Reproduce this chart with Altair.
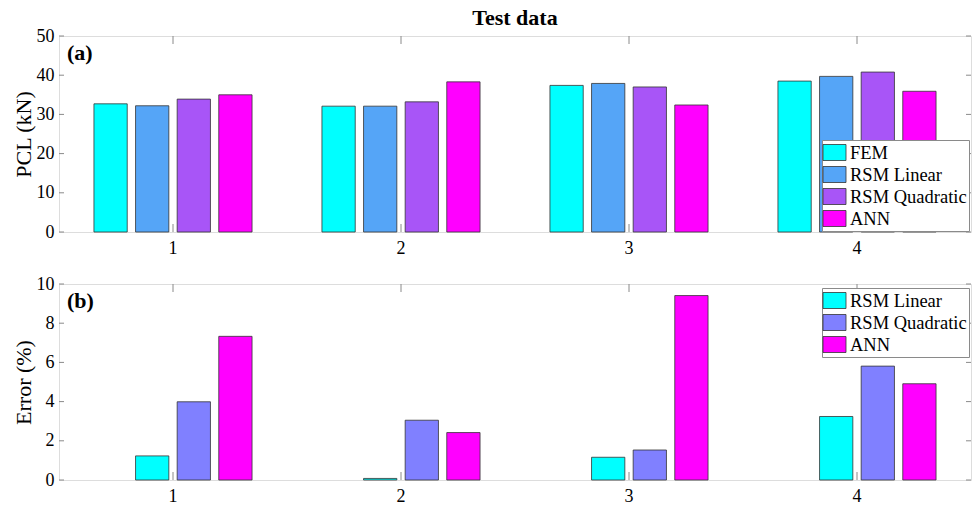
import altair as alt
import pandas as pd

cases = ["1", "2", "3", "4"]

# Panel (a): PCL (kN)
models_a = ["FEM", "RSM Linear", "RSM Quadratic", "ANN"]
fem = [32.7, 32.1, 37.4, 38.5]
rsm_linear = [32.2, 32.1, 37.9, 39.7]
rsm_quadratic = [33.9, 33.2, 37.0, 40.8]
ann = [35.0, 38.3, 32.4, 35.9]
colors_a = ["#00FFFF", "#55A5F7", "#A855F7", "#FF00FF"]
yticks_a = [0, 10, 20, 30, 40, 50]

# Panel (b): Error (%)
models_b = ["RSM Linear", "RSM Quadratic", "ANN"]
err_linear = [1.23, 0.08, 1.16, 3.24]
err_quadratic = [3.99, 3.05, 1.53, 5.81]
err_ann = [7.33, 2.42, 9.41, 4.91]
colors_b = ["#00FFFF", "#8080FF", "#FF00FF"]
yticks_b = [0, 2, 4, 6, 8, 10]

FONT = "Liberation Serif"
W, H = 912, 196
FRAME = "#8a8a8a"

rows_a = []
for m, vals in zip(models_a, [fem, rsm_linear, rsm_quadratic, ann]):
    for c, v in zip(cases, vals):
        rows_a.append({"Case": c, "Model": m, "Value": v})
df_a = pd.DataFrame(rows_a)

rows_b = []
for m, vals in zip(models_b, [err_linear, err_quadratic, err_ann]):
    for c, v in zip(cases, vals):
        rows_b.append({"Case": c, "Model": m, "Value": v})
df_b = pd.DataFrame(rows_b)

df_cases = pd.DataFrame({"Case": cases})

legend_path = "M-1.15,-0.8H1.15V0.8H-1.15Z"


def panel(df, models, colors, yticks, ymax, ytitle, tag, legend_y, title=None):
    x_axis = alt.Axis(
        title=None, labelAngle=0, ticks=False, domain=False,
        labelFont=FONT, labelFontSize=18, labelColor="black",
        labelPadding=7,
    )
    y_axis = alt.Axis(
        values=yticks, ticks=False, domain=False, grid=False,
        title=ytitle, titleFont=FONT, titleFontSize=22,
        titleFontWeight="normal", titleColor="black", titlePadding=1,
        labelFont=FONT, labelFontSize=18, labelColor="black",
        labelPadding=5,
    )
    xscale = alt.Scale(paddingInner=0, paddingOuter=0)
    yscale = alt.Scale(domain=[0, ymax], nice=False)
    bars = alt.Chart(df).mark_bar(stroke="#333333", strokeWidth=0.8).encode(
        x=alt.X("Case:N", sort=cases, scale=xscale, axis=x_axis),
        xOffset=alt.XOffset(
            "Model:N", sort=models,
            scale=alt.Scale(paddingInner=0.2, paddingOuter=0.84),
        ),
        y=alt.Y("Value:Q", scale=yscale, axis=y_axis),
        color=alt.Color(
            "Model:N", sort=models,
            scale=alt.Scale(domain=models, range=colors),
            legend=alt.Legend(
                title=None, orient="none", legendX=763, legendY=legend_y,
                fillColor="white", strokeColor=FRAME, padding=2,
                symbolType=legend_path, symbolSize=400,
                symbolStrokeColor="#333333", symbolStrokeWidth=0.8,
                symbolOpacity=1,
                labelFont=FONT, labelFontSize=18.5, labelColor="black",
                labelOffset=5, rowPadding=1,
            ),
        ),
    )
    xt_bot = alt.Chart(df_cases).mark_rule(color=FRAME).encode(
        x=alt.X("Case:N", sort=cases, bandPosition=0.5, scale=xscale, axis=x_axis),
        y=alt.value(H), y2=alt.value(H - 8),
    )
    xt_top = alt.Chart(df_cases).mark_rule(color=FRAME).encode(
        x=alt.X("Case:N", sort=cases, bandPosition=0.5, scale=xscale, axis=x_axis),
        y=alt.value(0), y2=alt.value(8),
    )
    df_yt = pd.DataFrame({"Value": yticks})
    yt_left = alt.Chart(df_yt).mark_rule(color=FRAME).encode(
        y=alt.Y("Value:Q", scale=yscale, axis=y_axis),
        x=alt.value(0), x2=alt.value(5),
    )
    yt_right = alt.Chart(df_yt).mark_rule(color=FRAME).encode(
        y=alt.Y("Value:Q", scale=yscale, axis=y_axis),
        x=alt.value(W - 5), x2=alt.value(W),
    )
    label = alt.Chart(pd.DataFrame({"Tag": [tag]})).mark_text(
        font=FONT, fontSize=22, fontWeight="bold", align="left",
        baseline="alphabetic", color="black",
    ).encode(text="Tag:N", x=alt.value(8), y=alt.value(24))
    props = dict(width=W, height=H)
    if title is not None:
        props["title"] = title
    return alt.layer(xt_bot, xt_top, yt_left, yt_right, bars, label).properties(**props)


title_a = alt.TitleParams(
    "Test data", font=FONT, fontSize=22, fontWeight="bold", color="black",
    anchor="middle", frame="group", offset=-3,
)

chart_a = panel(df_a, models_a, colors_a, yticks_a, 50, "PCL (kN)", "(a)", 104, title=title_a)
chart_b = panel(df_b, models_b, colors_b, yticks_b, 10, "Error (%)", "(b)", 4)

chart = alt.vconcat(chart_a, chart_b, spacing=16).resolve_scale(
    color="independent"
).properties(
    padding={"left": 11, "top": 6, "right": 5, "bottom": 0}
).configure_view(
    stroke=FRAME, strokeWidth=1
).configure(background="white")

chart.save("out.html", embed_options={"renderer": "svg", "actions": False})
